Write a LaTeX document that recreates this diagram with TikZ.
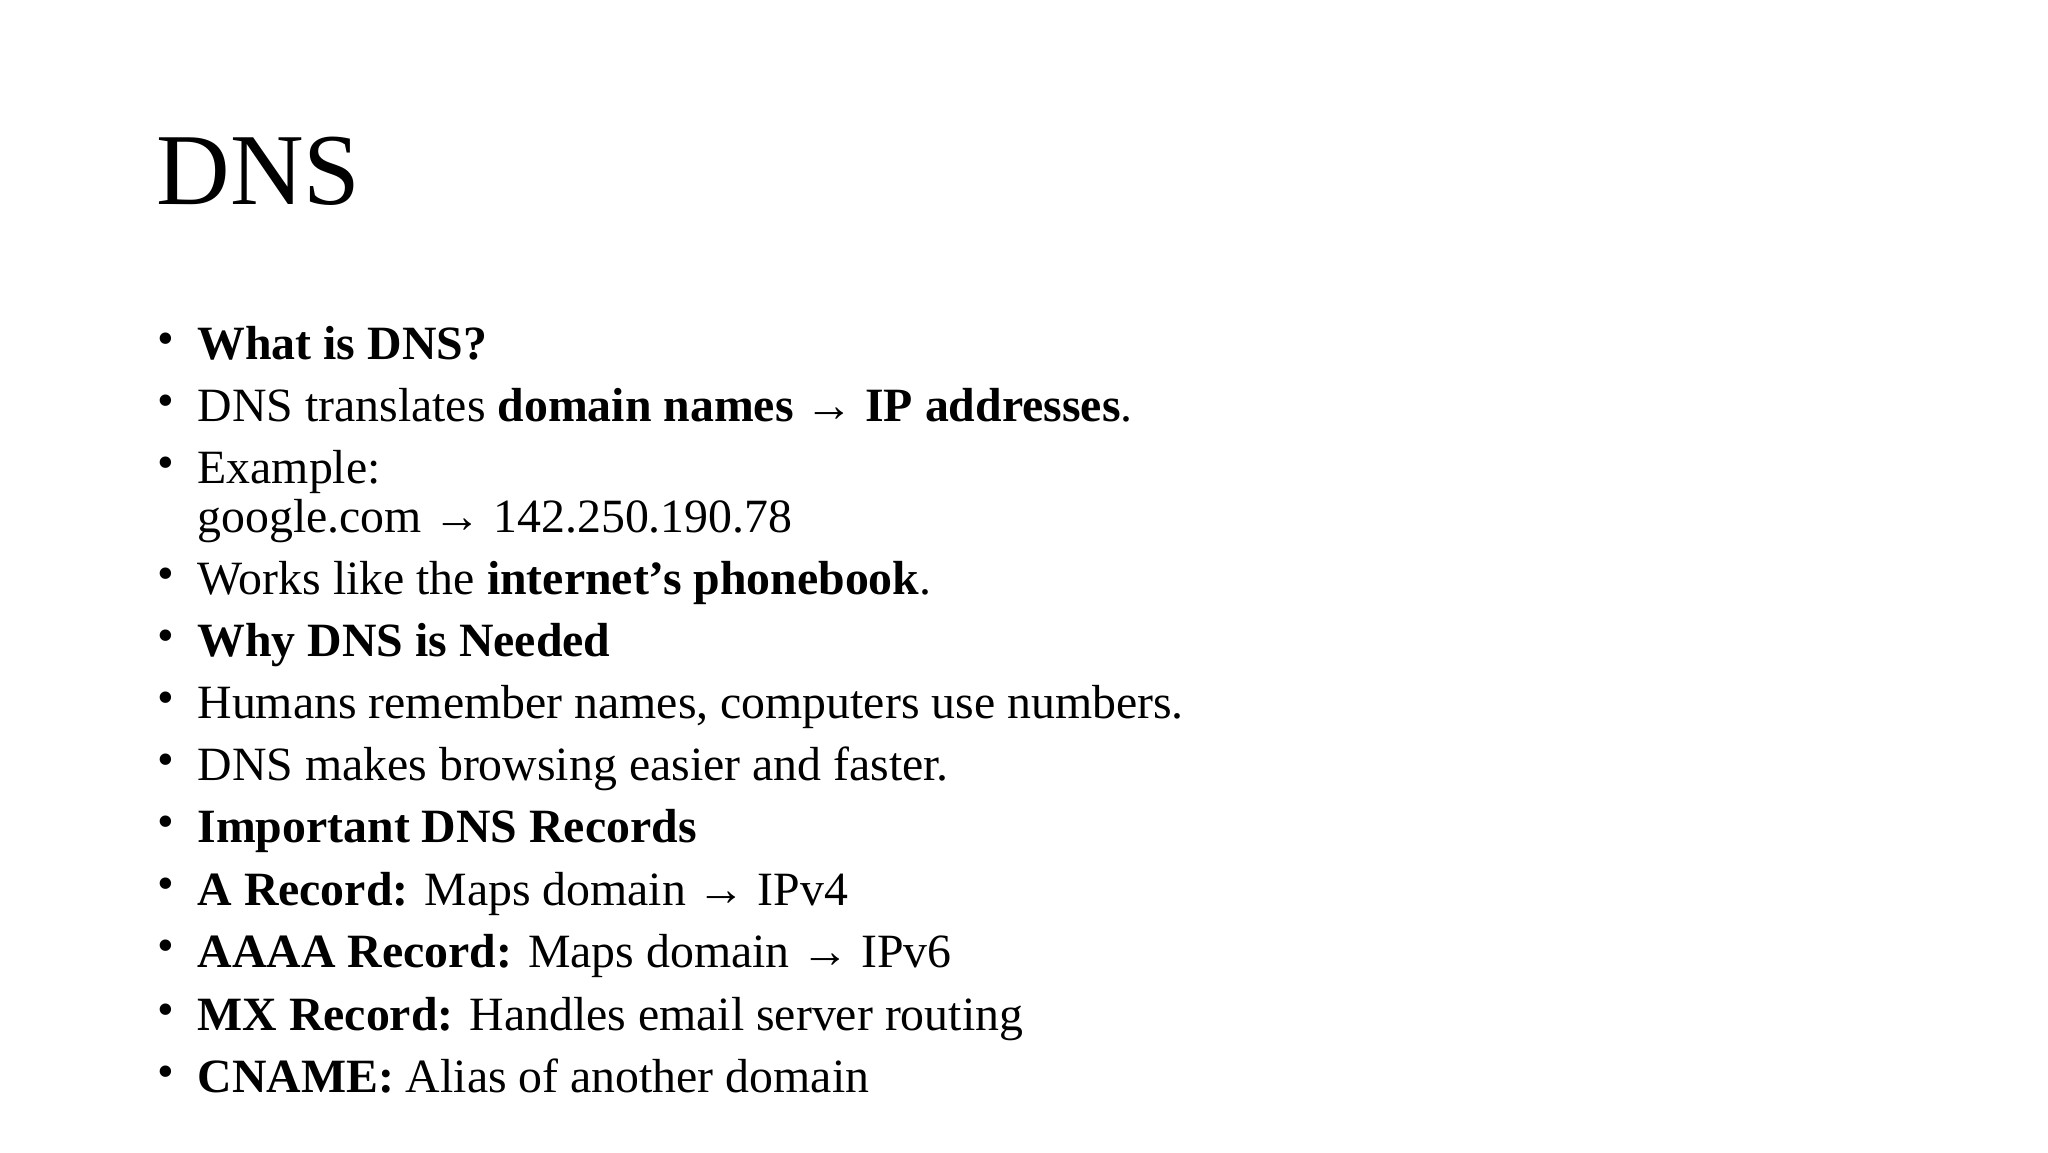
\documentclass[tikz,border=0pt]{standalone}
\usepackage{fontspec}
\setmainfont{Liberation Serif}
\begin{document}
\begin{tikzpicture}[x=0.013213cm,y=-0.013213cm,
  txt/.style={anchor=base west,inner sep=0pt,font=\fontsize{13.6pt}{16pt}\selectfont},
  bul/.style={anchor=base west,inner sep=0pt,font=\fontsize{13.6pt}{16pt}\selectfont}]
\useasboundingbox (0,0) rectangle (1550,872);
\node[anchor=base west,inner sep=0pt,font=\fontsize{29pt}{34pt}\selectfont] (title) at (118,155) {DNS};
\foreach \y/\t [count=\i] in {
 272/{\textbf{What is DNS?}},
 319/{DNS translates \textbf{domain names → IP addresses}.},
 366/{Example:},
 450/{Works like the \textbf{internet’s phonebook}.},
 497/{\textbf{Why DNS is Needed}},
 544/{Humans remember names, computers use numbers.},
 591/{DNS makes browsing easier and faster.},
 638/{\textbf{Important DNS Records}},
 685/{\textbf{A Record:} Maps domain → IPv4},
 732/{\textbf{AAAA Record:} Maps domain → IPv6},
 780/{\textbf{MX Record:} Handles email server routing},
 827/{\textbf{CNAME:} Alias of another domain}}{
  \node[bul] (b\i) at (119,\y-4) {•};
  \node[txt] (t\i) at (149,\y) {\t};
}
\node[txt] (ex2) at (149,403) {google.com → 142.250.190.78};
\end{tikzpicture}
\end{document}
